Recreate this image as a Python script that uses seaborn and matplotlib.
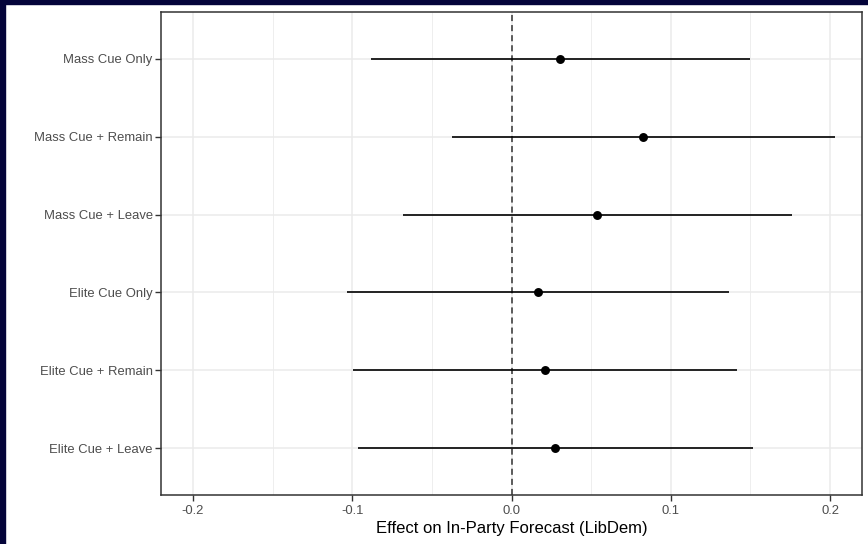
import numpy as np
import pandas as pd
import matplotlib
matplotlib.use("Agg")
import matplotlib.pyplot as plt
from matplotlib.patches import Rectangle
from matplotlib.ticker import MultipleLocator
import seaborn as sns

sns.set_theme(style="white")
plt.rcParams['font.family'] = ['Liberation Sans', 'DejaVu Sans']

# treatment conditions, top to bottom
conditions = ["Mass Cue Only", "Mass Cue + Remain", "Mass Cue + Leave",
              "Elite Cue Only", "Elite Cue + Remain", "Elite Cue + Leave"]
estimate = [0.0305, 0.0824, 0.0537, 0.0167, 0.0209, 0.0276]
ci_low = [-0.0883, -0.0376, -0.0682, -0.1031, -0.0994, -0.0962]
ci_high = [0.1495, 0.2028, 0.1760, 0.1368, 0.1414, 0.1516]
x_ticks = [-0.2, -0.1, 0.0, 0.1, 0.2]

df = pd.DataFrame({"Condition": conditions, "Estimate": estimate,
                   "Low": ci_low, "High": ci_high})

fig = plt.figure(figsize=(8.68, 5.44), dpi=100)
fig.patch.set_facecolor("white")
ax = fig.add_axes([0.1855, 0.0901, 0.9931 - 0.1855, 0.9779 - 0.0901])

ax.axvline(0, color="#333333", linestyle=(0, (4, 2.6)), linewidth=1.1, zorder=2)

ypos = np.arange(len(df))
ax.hlines(ypos, df["Low"], df["High"], color="black", linewidth=1.2, zorder=3)
sns.pointplot(data=df, x="Estimate", y="Condition", order=conditions,
              linestyle="none", color="black", markersize=4.4,
              errorbar=None, ax=ax, zorder=4)

# grid (ggplot theme_bw look) - after seaborn, which turns the y grid off
ax.set_axisbelow(True)
ax.xaxis.set_minor_locator(MultipleLocator(0.05))
ax.grid(True, which="major", axis="both", color="#ebebeb", linewidth=1.1)
ax.grid(True, which="minor", axis="x", color="#ebebeb", linewidth=0.6)

ax.set_xlim(-0.22, 0.22)
ax.set_ylim(len(conditions) - 0.4, -0.6)
ax.set_xticks(x_ticks)
ax.set_xticklabels([f"{t:.1f}" for t in x_ticks])
ax.set_xlabel("Effect on In-Party Forecast (LibDem)", fontsize=12, color="black", labelpad=3)
ax.set_ylabel("")

ax.tick_params(axis="both", which="major", length=4, width=1, color="#333333",
               labelsize=9.4, labelcolor="#4d4d4d", pad=2, bottom=True, left=True)
ax.tick_params(axis="x", pad=3)
ax.tick_params(axis="x", which="minor", length=0)
for s in ax.spines.values():
    s.set_color("#333333")
    s.set_linewidth(1.1)

# dark strip along the top and left edges of the screenshot
fig.patches.append(Rectangle((0, 0), 5 / 868, 1, transform=fig.transFigure,
                             color="#04043a", zorder=10))
fig.patches.append(Rectangle((0, 1 - 4 / 544), 1, 4 / 544, transform=fig.transFigure,
                             color="#04043a", zorder=10))

fig.savefig("out.png", dpi=100)
